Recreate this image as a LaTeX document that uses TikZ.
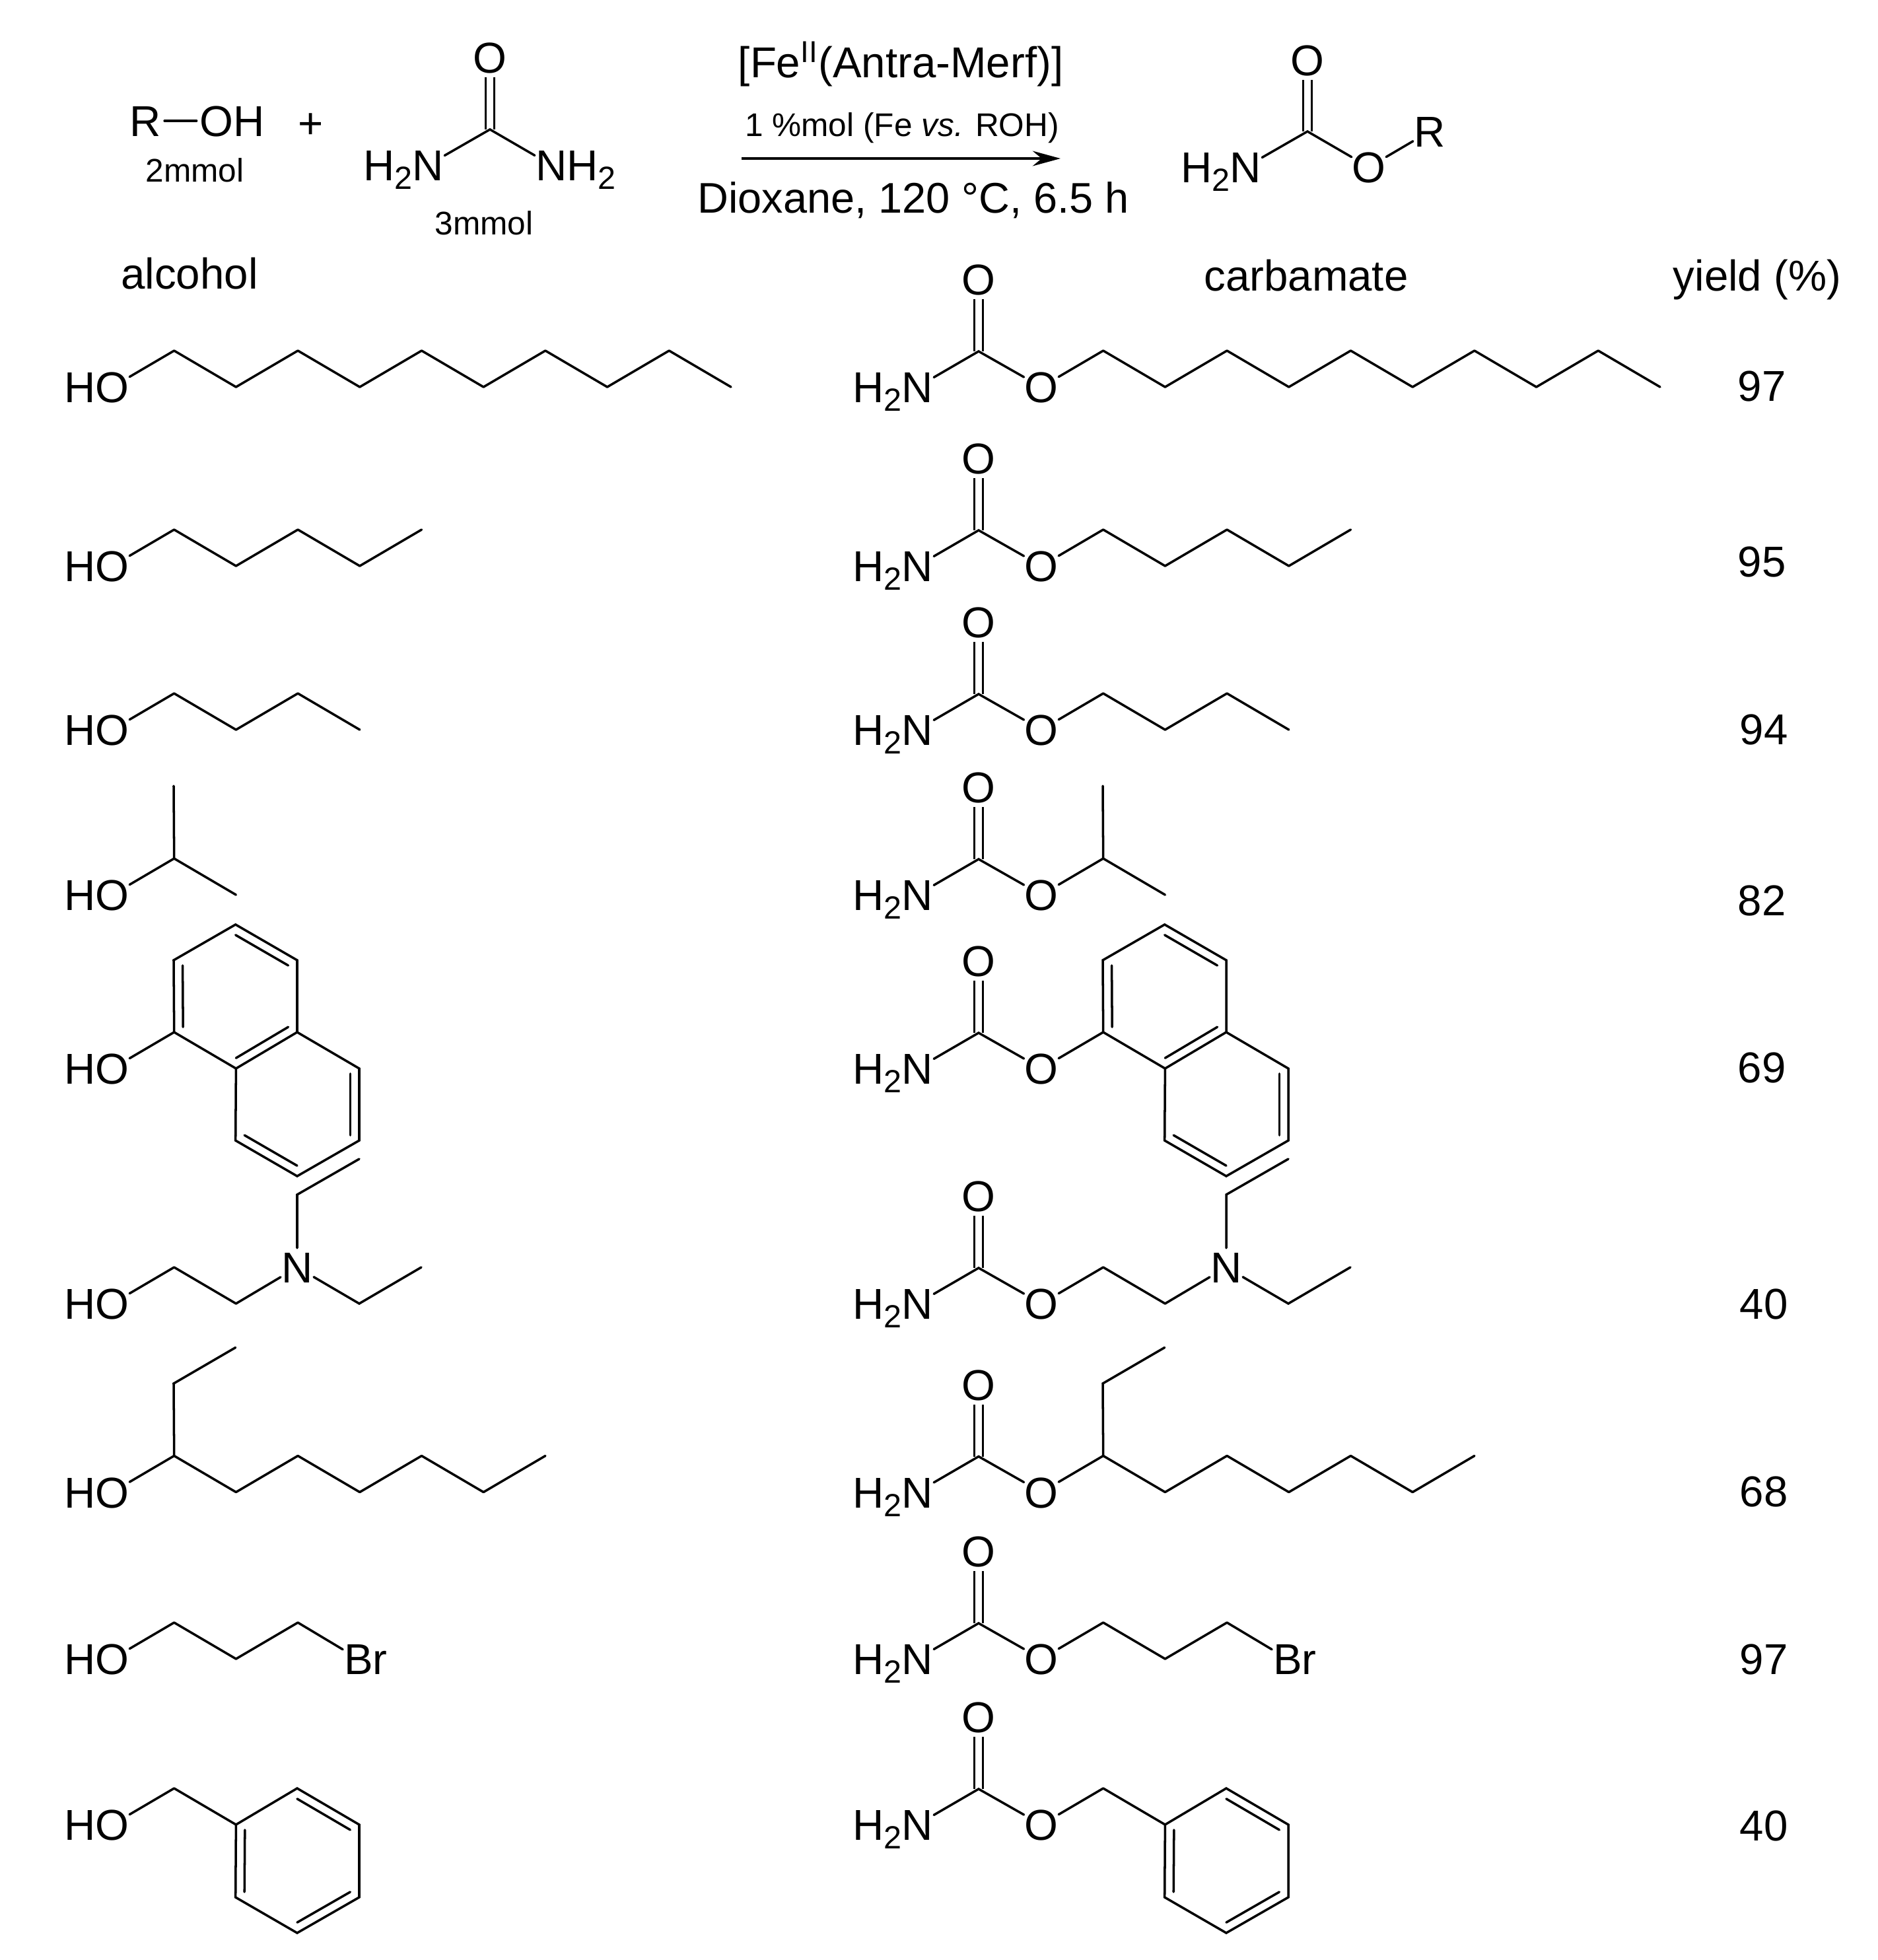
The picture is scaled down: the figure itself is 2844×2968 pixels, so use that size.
\documentclass[tikz,border=0pt]{standalone}
\usepackage{fontspec}
\setmainfont{Liberation Sans}
\usetikzlibrary{arrows.meta,calc}

\tikzset{
    bond/.style={line width=1pt,line cap=round},
    dbl/.style={line width=1pt,double,double distance=2.6pt},
    atom/.style={circle,inner sep=-1pt,font=\fontsize{18.6}{20}\selectfont,text height=13.4pt,text depth=0pt},
    biglabel/.style={inner sep=0pt,anchor=base,font=\fontsize{18.6}{20}\selectfont},
    smalllabel/.style={inner sep=0pt,anchor=base,font=\fontsize{14.1}{16}\selectfont}
}

\newcommand{\subtwo}{\raisebox{-3.8pt}[0pt][0pt]{\fontsize{13.8}{14}\selectfont 2}}

% zigzag carbon chain that starts on the oxygen
\newcommand{\zigzag}[1]{%
    \foreach \i in {1,...,#1}{
        \pgfmathsetmacro{\cx}{170+93.7*\i}
        \pgfmathsetmacro{\cy}{isodd(\i)?-55:0}
        \coordinate (C\i) at (\cx,\cy);
    }
    \draw[bond] (O) -- (C1);
    \foreach \i [remember=\i as \j (initially 1)] in {2,...,#1}{
        \draw[bond] (C\j) -- (C\i);
    }
}

% inner line of a ring double bond
\newcommand{\innerbond}[3]{\draw[bond] ($(#1)!.145!(#3)$) -- ($(#2)!.145!(#3)$);}

% one row: alcohol on the left, carbamate on the right, same R group
\newcommand{\moleculerow}[2]{%
    \begin{scope}[shift={(0,#1)},name prefix=alc#1-]
        \node[atom] (O) at (170,0) {\llap{H}O};
        #2
    \end{scope}
    \begin{scope}[shift={(1407,#1)},name prefix=car#1-]
        \node[atom] (O) at (170,0) {O};
        \node[atom] (NH) at (-18,0) {\llap{H\subtwo}N};
        \node[atom] (Otop) at (75,-163) {O};
        \coordinate (Cco) at (75,-54);
        \draw[dbl] (Cco) -- (Otop);
        \draw[bond] (NH) -- (Cco) -- (O);
        #2
    \end{scope}
}

\begin{document}
\begin{tikzpicture}[x=0.01cm,y=-0.01cm]
    \useasboundingbox (0,0) rectangle (2844,2968);

    % reaction scheme
    \node[atom] (R) at (220,183) {R};
    \node[atom] (OH) at (328,183) {O\rlap{H}};
    \draw[bond] (R) -- (OH);
    \node[smalllabel] (amountR) at (295,275) {2mmol};
    \node[biglabel] (plus) at (471,209) {+};

    \node[atom] (ureaO) at (742,87) {O};
    \coordinate (ureaC) at (742,196);
    \node[atom] (ureaNa) at (648,250) {\llap{H\subtwo}N};
    \node[atom] (ureaNb) at (835,250) {N\rlap{H\subtwo}};
    \draw[dbl] (ureaC) -- (ureaO);
    \draw[bond] (ureaNa) -- (ureaC) -- (ureaNb);
    \node[smalllabel] (amountU) at (733,355) {3mmol};

    \node[biglabel] (catalyst) at (1364,117) {[Fe\textsuperscript{II}(Antra-Merf)]};
    \node[smalllabel] (loading) at (1366,206) {1 \%mol (Fe \textit{vs.} ROH)};
    \coordinate (arrowstart) at (1123,240);
    \coordinate (arrowend) at (1606,240);
    \draw[line width=1pt,-{Stealth[length=12pt,width=6.5pt]}] (arrowstart) -- (arrowend);
    \node[biglabel,font=\fontsize{18.45}{20}\selectfont] (conditions) at (1383,322) {Dioxane, 120 °C, 6.5 h};

    \node[atom] (prodOtop) at (1980,91) {O};
    \coordinate (prodC) at (1980,199);
    \node[atom] (prodN) at (1886,253) {\llap{H\subtwo}N};
    \node[atom] (prodO) at (2073,253) {O};
    \node[atom] (prodR) at (2165,199) {R};
    \draw[dbl] (prodC) -- (prodOtop);
    \draw[bond] (prodN) -- (prodC) -- (prodO) -- (prodR);

    % column heads
    \node[biglabel] (headA) at (287,437) {alcohol};
    \node[biglabel] (headC) at (1978,440) {carbamate};
    \node[biglabel] (headY) at (2661,440) {yield (\%)};

    % the rows
    \moleculerow{586}{\zigzag{10}}
    \moleculerow{857}{\zigzag{5}}
    \moleculerow{1105}{\zigzag{4}}
    \moleculerow{1355}{%
        \zigzag{2}
        \coordinate (Me) at (263,-165);
        \draw[bond] (C1) -- (Me);
    }
    \moleculerow{1618}{%
        \zigzag{2}
        \coordinate (R2) at (263,-164);
        \coordinate (R3) at (356.7,-218);
        \coordinate (R4) at (450,-164);
        \coordinate (R5) at (450,-55);
        \coordinate (R6) at (544,0);
        \coordinate (R7) at (544,109);
        \coordinate (R8) at (450,163);
        \coordinate (R9) at (356.7,109);
        \coordinate (ringA) at (356.7,-109);
        \coordinate (ringB) at (450,54);
        \draw[bond] (C1) -- (R2) -- (R3) -- (R4) -- (R5) -- (C2) -- (R9) -- (R8) -- (R7) -- (R6) -- (R5);
        \innerbond{C1}{R2}{ringA}
        \innerbond{R3}{R4}{ringA}
        \innerbond{R5}{C2}{ringA}
        \innerbond{R6}{R7}{ringB}
        \innerbond{R8}{R9}{ringB}
    }
    \moleculerow{1974}{%
        \zigzag{2}
        \node[atom] (Nt) at (450,-55) {N};
        \coordinate (E1) at (544,0);
        \coordinate (E2) at (638,-55);
        \coordinate (E3) at (450,-165);
        \coordinate (E4) at (544,-219);
        \draw[bond] (C2) -- (Nt) -- (E1) -- (E2);
        \draw[bond] (Nt) -- (E3) -- (E4);
    }
    \moleculerow{2259.5}{%
        \zigzag{7}
        \coordinate (E1) at (263,-164.5);
        \coordinate (E2) at (356.7,-219);
        \draw[bond] (C1) -- (E1) -- (E2);
    }
    \moleculerow{2512}{%
        \zigzag{3}
        \node[atom] (Brom) at (543,0) {B\rlap{r}};
        \draw[bond] (C3) -- (Brom);
    }
    \moleculerow{2763}{%
        \zigzag{2}
        \coordinate (R1) at (450,-55);
        \coordinate (R2) at (544,0);
        \coordinate (R3) at (544,110);
        \coordinate (R4) at (450,164);
        \coordinate (R5) at (356.7,110);
        \coordinate (ring) at (450,54.5);
        \draw[bond] (C2) -- (R1) -- (R2) -- (R3) -- (R4) -- (R5) -- cycle;
        \innerbond{C2}{R5}{ring}
        \innerbond{R1}{R2}{ring}
        \innerbond{R3}{R4}{ring}
    }

    % yields
    \node[biglabel] (y1) at (2668,607) {97};
    \node[biglabel] (y2) at (2668,873) {95};
    \node[biglabel] (y3) at (2671,1127) {94};
    \node[biglabel] (y4) at (2668,1386) {82};
    \node[biglabel] (y5) at (2668,1639) {69};
    \node[biglabel] (y6) at (2671,1997) {40};
    \node[biglabel] (y7) at (2671,2281) {68};
    \node[biglabel] (y8) at (2671,2535) {97};
    \node[biglabel] (y9) at (2671,2787) {40};
\end{tikzpicture}
\end{document}
